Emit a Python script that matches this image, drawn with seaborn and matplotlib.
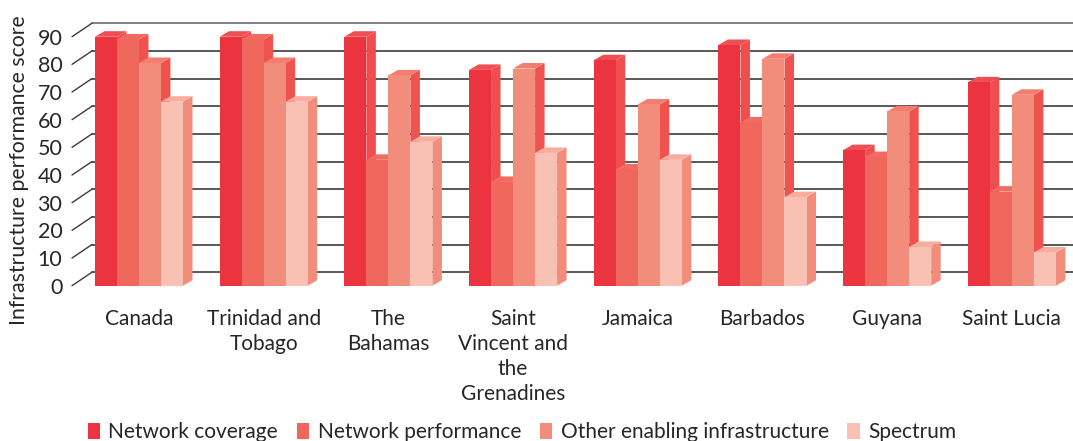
import numpy as np
import pandas as pd
import seaborn as sns
import matplotlib.pyplot as plt
from matplotlib.patches import Polygon, Patch

# Scores per country
countries = ["Canada", "Trinidad and\nTobago", "The\nBahamas",
             "Saint\nVincent and\nthe\nGrenadines", "Jamaica", "Barbados",
             "Guyana", "Saint Lucia"]
metrics = ["Network coverage", "Network performance",
           "Other enabling infrastructure", "Spectrum"]
coverage = [90, 90, 90, 78, 81.5, 87, 49, 73.5]
performance = [89, 89, 45.5, 37.5, 42, 59, 46.5, 34]
other_infra = [80.5, 80.5, 76, 78.5, 65.5, 82, 63, 69]
spectrum = [66.5, 66.5, 52, 48, 45.5, 32, 14, 12]
y_ticks = [0, 10, 20, 30, 40, 50, 60, 70, 80, 90]

series = [coverage, performance, other_infra, spectrum]
df = pd.DataFrame({
    "country": np.repeat([countries], 4, axis=0).ravel(),
    "metric": np.repeat(metrics, len(countries)),
    "score": np.concatenate(series),
})

front_cols = ["#EC3340", "#F0675D", "#F28C7B", "#F9C1B3"]
top_cols = ["#F04E52", "#F26A60", "#F37E70", "#F8AD9F"]
side_cols = ["#EF4E50", "#EF5350", "#EF5350", "#F28C7B"]

sns.set_theme(style="white")
plt.rcParams["font.family"] = ["Lato", "DejaVu Sans"]
text_col = "#262626"

W, H, DPI = 1073, 441, 100
fig = plt.figure(figsize=(W / DPI, H / DPI), dpi=DPI)
ax_left, ax_right = 72, 1073
ax_bot, ax_top = 285.7, 36.7
ax = fig.add_axes([ax_left / W, 1 - ax_bot / H,
                   (ax_right - ax_left) / W, (ax_bot - ax_top) / H])

sns.barplot(data=df, x="country", y="score", hue="metric", palette=front_cols,
            width=0.706, saturation=1, linewidth=0, legend=False, ax=ax)

xmin, xmax = -0.537, 7.49
ax.set_xlim(xmin, xmax)
ax.set_ylim(0, 90)

# pixel -> data conversions for the pseudo-3D depth
px_x = (ax_right - ax_left) / (xmax - xmin)
px_y = (ax_bot - ax_top) / 90.0
bar_dx, bar_dy = 9.5 / px_x, 5.5 / px_y
wall_dx, wall_dy = 20 / px_x, 13.5 / px_y

# back-wall gridlines and the slanted lines joining them to the tick labels
for v in y_ticks:
    ax.plot([xmin + wall_dx, xmax + wall_dx], [v + wall_dy, v + wall_dy],
            color="#777777" if v == 90 else "#4A4A4A", lw=1.3, zorder=0.5,
            clip_on=False)
    ax.plot([xmin, xmin + wall_dx], [v, v + wall_dy],
            color="#3A3A3A", lw=1.0, zorder=0.5, clip_on=False)

# side and top faces for each bar
for j, cont in enumerate(ax.containers):
    for rect in cont:
        x0, w, h = rect.get_x(), rect.get_width(), rect.get_height()
        rect.set_zorder(3 + j)
        side = Polygon([(x0 + w, 0), (x0 + w, h), (x0 + w + bar_dx, h + bar_dy),
                        (x0 + w + bar_dx, bar_dy)], closed=True,
                       facecolor=side_cols[j], edgecolor="none",
                       zorder=2.9 + j, clip_on=False)
        top = Polygon([(x0, h), (x0 + w, h), (x0 + w + bar_dx, h + bar_dy),
                       (x0 + bar_dx, h + bar_dy)], closed=True,
                      facecolor=top_cols[j], edgecolor="none",
                      zorder=2.95 + j, clip_on=False)
        ax.add_patch(side)
        ax.add_patch(top)

for s in ax.spines.values():
    s.set_visible(False)
ax.set_yticks(y_ticks)
ax.tick_params(axis="y", length=0, pad=7, labelsize=15.5, labelcolor=text_col)
ax.tick_params(axis="x", length=0, pad=17, labelsize=15, labelcolor=text_col)
for lab in ax.get_xticklabels():
    lab.set_linespacing(1.3)
ax.set_xlabel("")
ax.set_ylabel("")
fig.text(19 / W, 1 - 170 / H, "Infrastructure performance score", rotation=90,
         ha="center", va="center", fontsize=15.3, color=text_col)

handles = [Patch(facecolor=c, edgecolor="none") for c in front_cols]
fig.legend(handles, metrics, loc="center", bbox_to_anchor=(522 / W, 1 - 432 / H),
           ncol=4, frameon=False, fontsize=15, handlelength=0.6,
           handleheight=0.8, handletextpad=0.4, columnspacing=0.9,
           labelcolor=text_col)

fig.savefig("out.png", dpi=DPI)
